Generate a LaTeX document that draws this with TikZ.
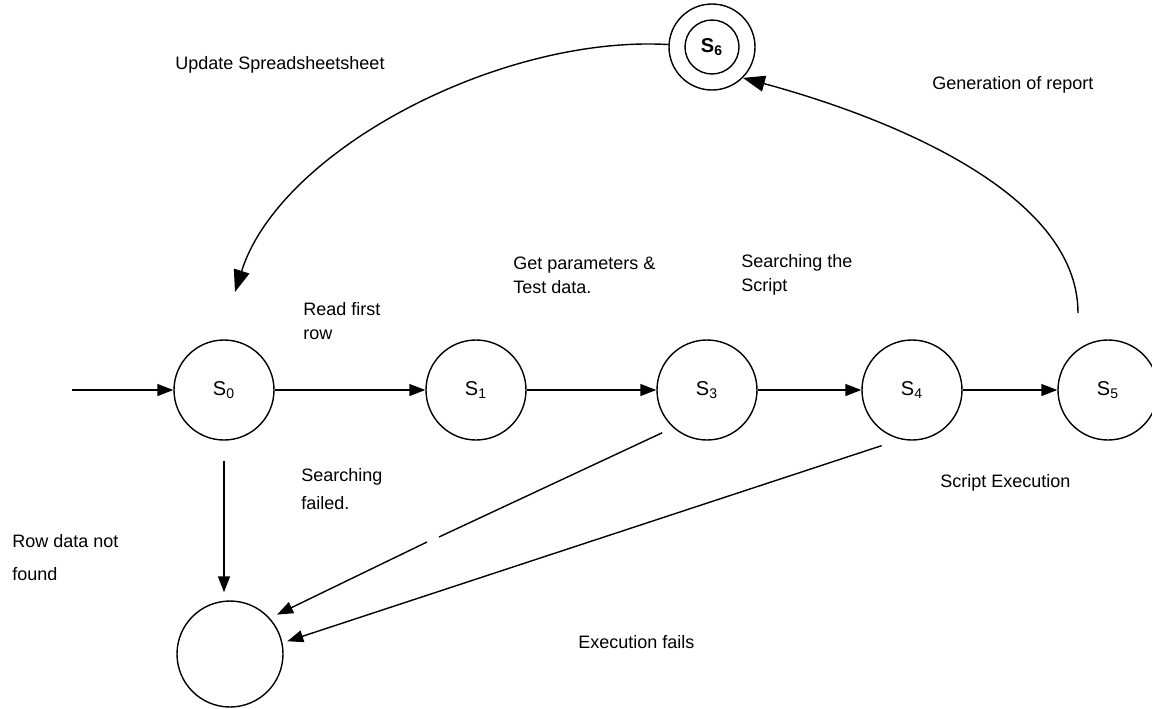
\documentclass[tikz,border=0pt]{standalone}
\usepackage{fontspec}
\setmainfont{Liberation Sans}
\usetikzlibrary{arrows.meta}
\begin{document}
\begin{tikzpicture}[x=0.5pt,y=-0.5pt]
% Page frame
\clip (0,0) rectangle (1152,708);

\tikzstyle{state} = [draw, shape=circle, minimum size=50pt, inner sep=0pt, line width=0.7pt, font=\fontsize{10}{12}\selectfont]
\tikzstyle{lbl} = [anchor=west, align=left, inner sep=0pt, font=\fontsize{9}{12}\selectfont]
\tikzstyle{arr} = [line width=0.7pt, -{Triangle[length=8pt,width=6pt]}]
\tikzstyle{bigarr} = [line width=0.7pt, -{Triangle[length=11pt,width=8pt]}]

\node at (224,390) [state] (s0){S\textsubscript{0}};
\node at (476,390) [state] (s1){S\textsubscript{1}};
\node at (707,390) [state] (s3){S\textsubscript{3}};
\node at (912,390) [state] (s4){S\textsubscript{4}};
\node at (1108,390) [state] (s5){S\textsubscript{5}};
\node at (230,654) [state, minimum size=53pt] (fin){};
\node at (712,47) [state, minimum size=43pt] (s6){};
\node at (s6) [state, minimum size=27pt] (s6in){\textbf{S\textsubscript{6}}};

\coordinate (start) at (72,390);
\coordinate (upd) at (235,292);
\coordinate (rep) at (1078,313);
\coordinate (gapa) at (439,537);
\coordinate (gapb) at (427,542);

\draw[arr] (start) -- (s0);
\draw[arr] (s0) -- (s1);
\draw[arr] (s1) -- (s3);
\draw[arr] (s3) -- (s4);
\draw[arr] (s4) -- (s5);

\draw[arr, shorten <=10pt, shorten >=4pt] (s0.south) -- (s0.south |- fin.north);
\draw[line width=0.7pt, shorten <=6pt] (s3.228) -- (gapa);
\draw[arr, shorten >=4pt] (gapb) -- (fin.42);
\draw[arr, shorten <=10pt, shorten >=2.5pt] (s4.257) -- (fin.12);

\draw[bigarr] (s6) .. controls (500,35) and (280,150) .. (upd);
\draw[bigarr] (rep) .. controls (1078,190) and (880,115) .. (s6.-45);

\node at (175,65) [lbl] (tupd){Update Spreadsheetsheet};
\node at (932,85) [lbl] (tgen){Generation of report};
\node at (303,321) [lbl] (tread){Read first\\row};
\node at (513,275) [lbl] (tget){Get parameters \&\\Test data.};
\node at (741,275) [lbl] (tsrch){Searching the\\Script};
\node at (940,483) [lbl] (texec){Script Execution};
\node at (301,489) [lbl] (tfail){Searching\\[2pt]failed.};
\node at (12,558) [lbl] (trow){Row data not\\[4.5pt]found};
\node at (578,642) [lbl] (tefail){Execution fails};
\end{tikzpicture}
\end{document}
